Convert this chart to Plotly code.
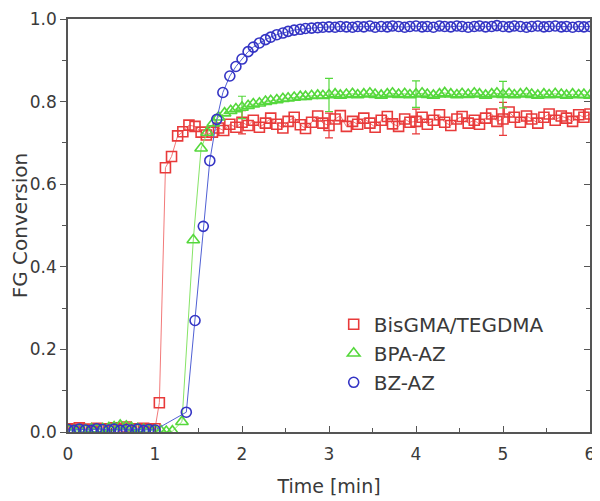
import plotly.graph_objects as go

# ---------------- data ----------------
plateau_t = [2.0, 2.07, 2.13, 2.2, 2.27, 2.33, 2.4, 2.47, 2.53, 2.6,
             2.67, 2.73, 2.8, 2.87, 2.93, 3.0, 3.07, 3.13, 3.2, 3.27,
             3.33, 3.4, 3.47, 3.53, 3.6, 3.67, 3.73, 3.8, 3.87, 3.93,
             4.0, 4.07, 4.13, 4.2, 4.27, 4.33, 4.4, 4.47, 4.53, 4.6,
             4.67, 4.73, 4.8, 4.87, 4.93, 5.0, 5.07, 5.13, 5.2, 5.27,
             5.33, 5.4, 5.47, 5.53, 5.6, 5.67, 5.73, 5.8, 5.87, 5.93,
             6.0]

red_t_early = [0.0, 0.07, 0.13, 0.2, 0.27, 0.33, 0.4, 0.47, 0.53, 0.6,
               0.67, 0.73, 0.8, 0.87, 0.93, 1.0, 1.05, 1.12, 1.19, 1.26,
               1.32, 1.39, 1.46, 1.53, 1.59, 1.66, 1.73, 1.79, 1.86, 1.93]
red_y_early = [0.008, 0.006, 0.010, 0.007, 0.005, 0.009, 0.006, 0.008, 0.010, 0.007,
               0.012, 0.008, 0.006, 0.009, 0.007, 0.008, 0.071, 0.640, 0.667, 0.717,
               0.727, 0.743, 0.740, 0.726, 0.719, 0.726, 0.736, 0.730, 0.745, 0.738]
red_y_plateau = [0.750, 0.742, 0.755, 0.738, 0.748, 0.760, 0.745, 0.736, 0.752, 0.762,
                 0.744, 0.735, 0.750, 0.765, 0.748, 0.742, 0.758, 0.766, 0.740, 0.752,
                 0.745, 0.760, 0.748, 0.738, 0.755, 0.764, 0.746, 0.740, 0.758, 0.750,
                 0.752, 0.762, 0.745, 0.755, 0.768, 0.750, 0.742, 0.758, 0.764, 0.748,
                 0.755, 0.745, 0.760, 0.770, 0.752, 0.758, 0.775, 0.762, 0.750, 0.765,
                 0.758, 0.748, 0.762, 0.770, 0.755, 0.765, 0.760, 0.752, 0.768, 0.762,
                 0.770]

green_t_early = [0.0, 0.07, 0.13, 0.2, 0.27, 0.33, 0.4, 0.47, 0.53, 0.6,
                 0.67, 0.73, 0.8, 0.87, 0.93, 1.0, 1.07, 1.13, 1.2, 1.31,
                 1.44, 1.53, 1.6, 1.67, 1.73, 1.8, 1.87, 1.93]
green_y_early = [0.005, 0.004, 0.006, 0.005, 0.007, 0.006, 0.008, 0.010, 0.012, 0.016,
                 0.014, 0.010, 0.008, 0.006, 0.005, 0.004, 0.002, 0.001, 0.002, 0.025,
                 0.465, 0.687, 0.725, 0.748, 0.762, 0.772, 0.778, 0.782]
green_y_plateau = [0.786, 0.790, 0.794, 0.796, 0.800, 0.802, 0.804, 0.807, 0.808, 0.810,
                   0.812, 0.812, 0.814, 0.815, 0.814, 0.816, 0.818, 0.815, 0.817, 0.819,
                   0.816, 0.818, 0.820, 0.817, 0.815, 0.818, 0.820, 0.817, 0.819, 0.816,
                   0.818, 0.820, 0.817, 0.815, 0.818, 0.821, 0.818, 0.816, 0.819, 0.817,
                   0.820, 0.818, 0.815, 0.818, 0.820, 0.817, 0.819, 0.816, 0.818, 0.820,
                   0.817, 0.815, 0.818, 0.816, 0.819, 0.817, 0.815, 0.818, 0.816, 0.817,
                   0.815]

blue_t_early = [0.0, 0.07, 0.13, 0.2, 0.27, 0.33, 0.4, 0.47, 0.53, 0.6,
                0.67, 0.73, 0.8, 0.87, 0.93, 1.0, 1.36, 1.46, 1.555, 1.63,
                1.71, 1.78, 1.86, 1.93]
blue_y_early = [0.006, 0.004, 0.007, 0.005, 0.004, 0.008, 0.006, 0.005, 0.007, 0.004,
                0.006, 0.005, 0.007, 0.004, 0.006, 0.005, 0.048, 0.270, 0.498, 0.657,
                0.757, 0.822, 0.862, 0.885]
blue_y_plateau = [0.903, 0.921, 0.932, 0.942, 0.950, 0.956, 0.962, 0.966, 0.970, 0.973,
                  0.975, 0.977, 0.978, 0.979, 0.980, 0.981, 0.980, 0.982, 0.981, 0.980,
                  0.982, 0.981, 0.983, 0.980, 0.982, 0.981, 0.983, 0.982, 0.980, 0.982,
                  0.983, 0.981, 0.982, 0.980, 0.983, 0.982, 0.981, 0.983, 0.982, 0.980,
                  0.982, 0.983, 0.981, 0.982, 0.984, 0.982, 0.981, 0.983, 0.982, 0.980,
                  0.982, 0.983, 0.981, 0.982, 0.983, 0.981, 0.982, 0.980, 0.982, 0.981,
                  0.982]

err_t = [2.0, 3.0, 4.0, 5.0]
red_err = [0.028, 0.030, 0.030, 0.040]
green_err = [0.027, 0.040, 0.032, 0.032]

names = ["BisGMA/TEGDMA", "BPA-AZ", "BZ-AZ"]
x_ticks = [0, 1, 2, 3, 4, 5, 6]
y_ticks = [0.0, 0.2, 0.4, 0.6, 0.8, 1.0]

# ---------------- figure ----------------
FONT = "DejaVu Sans, Arial, sans-serif"
TXT = "#3a3a3a"
AX = "#555555"

series = [
    (names[0], red_t_early + plateau_t, red_y_early + red_y_plateau,
     "square-open", "#e83a3a", "#f27a7a", 10, red_err),
    (names[1], green_t_early + plateau_t, green_y_early + green_y_plateau,
     "triangle-up-open", "#55d83c", "#86e466", 11, green_err),
    (names[2], blue_t_early + plateau_t, blue_y_early + blue_y_plateau,
     "circle-open", "#3434c4", "#5060d4", 10, None),
]

fig = go.Figure()
for name, tx, ty, sym, mcol, lcol, msz, err in series:
    fig.add_trace(go.Scatter(
        x=tx, y=ty, mode="lines+markers", name=name, showlegend=False,
        line=dict(color=lcol, width=1),
        marker=dict(symbol=sym, size=msz, color=mcol, line=dict(color=mcol, width=1.6)),
    ))
    if err is not None:
        ey = [ty[tx.index(t)] for t in err_t]
        fig.add_trace(go.Scatter(
            x=err_t, y=ey, mode="markers", showlegend=False, hoverinfo="skip",
            marker=dict(size=1, color="rgba(0,0,0,0)"),
            error_y=dict(type="data", array=err, visible=True, color=mcol,
                         thickness=1.2, width=4),
        ))

# legend entries (markers only, as in the reference)
for name, tx, ty, sym, mcol, lcol, msz, err in series:
    fig.add_trace(go.Scatter(
        x=[None], y=[None], mode="markers", name=name, showlegend=True,
        marker=dict(symbol=sym, size=msz, color=mcol, line=dict(color=mcol, width=1.6)),
    ))

# the page body has an 8px default margin, so the figure is sized to fit the window
fig.update_layout(
    width=592, height=493,
    margin=dict(l=60, r=10, t=11, b=69),
    paper_bgcolor="white", plot_bgcolor="white",
    font=dict(family=FONT, color=TXT, size=16),
    showlegend=True,
    legend=dict(x=0.509, y=0.308, xanchor="left", yanchor="top",
                bgcolor="rgba(0,0,0,0)", font=dict(size=20, color=TXT),
                tracegroupgap=0, itemwidth=30),
    xaxis=dict(
        range=[0, 6], tickvals=x_ticks, ticktext=[str(v) for v in x_ticks],
        ticks="inside", ticklen=6, tickwidth=1.2, tickcolor=AX,
        minor=dict(dtick=0.5, ticks="inside", ticklen=4, tickcolor=AX, tickwidth=1),
        showline=True, linecolor=AX, linewidth=1.5, mirror=True,
        showgrid=False, zeroline=False, ticklabelstandoff=6, automargin=False,
        ticklabeloverflow="allow",
        tickfont=dict(size=17, color=TXT),
        title=dict(text="Time [min]", font=dict(size=19, color=TXT), standoff=17),
    ),
    yaxis=dict(
        range=[0, 1.0], tickvals=y_ticks, ticktext=["%.1f" % v for v in y_ticks],
        ticks="outside", ticklen=6, tickwidth=1.2, tickcolor=AX,
        minor=dict(dtick=0.1, ticks="outside", ticklen=4, tickcolor=AX, tickwidth=1),
        showline=True, linecolor=AX, linewidth=1.5, mirror=True,
        showgrid=False, zeroline=False, automargin=False,
        ticklabeloverflow="allow",
        tickfont=dict(size=17, color=TXT),
        title=dict(text="FG Conversion", font=dict(size=20, color=TXT), standoff=5),
    ),
    yaxis2=dict(
        range=[0, 1.0], overlaying="y", side="right", showticklabels=False,
        tickvals=y_ticks, ticks="inside", ticklen=6, tickwidth=1.2, tickcolor=AX,
        minor=dict(dtick=0.1, ticks="inside", ticklen=4, tickcolor=AX, tickwidth=1),
        showgrid=False, zeroline=False, showline=False, automargin=False,
    ),
)
# dummy trace to activate the right axis ticks
fig.add_trace(go.Scatter(x=[None], y=[None], yaxis="y2", showlegend=False, hoverinfo="skip"))

fig.write_html("out.html")
